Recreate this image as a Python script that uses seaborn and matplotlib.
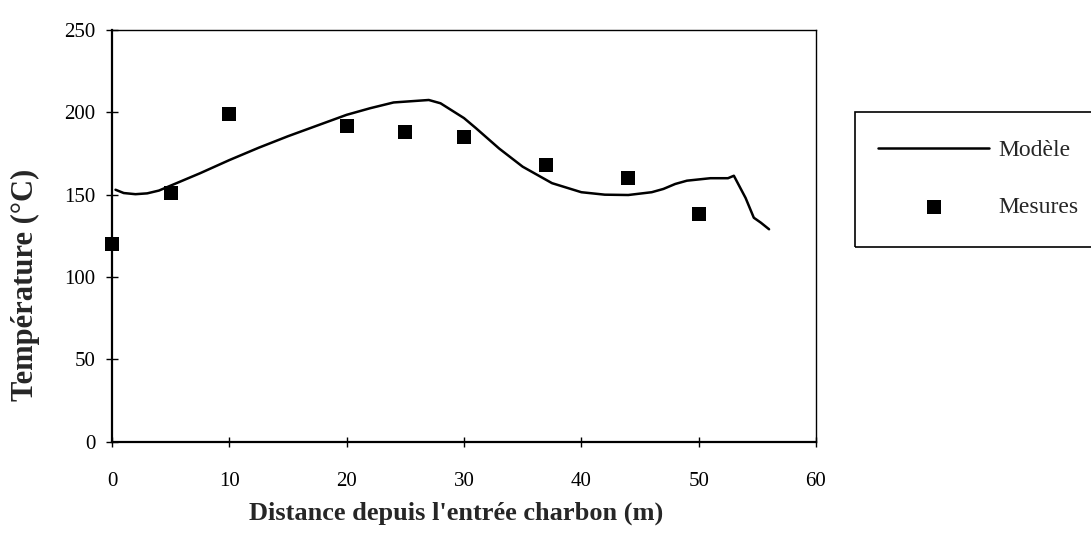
import numpy as np
import pandas as pd
import matplotlib
matplotlib.use("Agg")
import matplotlib.pyplot as plt
from matplotlib.patches import Rectangle
import seaborn as sns

# Model curve
model_x = [0.3, 1, 2, 3, 4, 5, 7.5, 10, 12.5, 15, 17.5, 20, 22, 24, 25, 26, 27, 28, 29, 30,
           31, 33, 35, 37.5, 40, 42, 44, 46, 47, 48, 49, 51, 52.5, 53, 54, 54.7, 55.3, 56]
model_y = [153, 151, 150.3, 150.8, 152.5, 155.5, 163, 171, 178.5, 185.5, 192, 198.5, 202.5, 206, 206.5, 207, 207.5, 205.5, 201, 196.5,
           190.5, 178, 167, 157, 151.5, 150, 149.8, 151.5, 153.5, 156.5, 158.5, 160, 160, 161.5, 148, 136, 133, 129]

# Measurements
mes_x = [0, 5, 10, 20, 25, 30, 37, 44, 50]
mes_y = [120, 151, 199, 192, 188, 185, 168, 160, 138]

x_ticks = [0, 10, 20, 30, 40, 50, 60]
y_ticks = [0, 50, 100, 150, 200, 250]

sns.set_style("ticks")
plt.rcParams['font.family'] = ['Liberation Serif', 'DejaVu Serif']

model = pd.DataFrame({"x": model_x, "y": model_y})
mes = pd.DataFrame({"x": mes_x, "y": mes_y})

fig = plt.figure(figsize=(10.91, 5.33), dpi=100)
ax = fig.add_axes([112 / 1091, 1 - 441.7 / 533, (816 - 112) / 1091, (441.7 - 30) / 533])

sns.lineplot(data=model, x="x", y="y", ax=ax, color="black", linewidth=1.8,
             sort=False, label="Modèle", legend=False)
sns.scatterplot(data=mes, x="x", y="y", ax=ax, color="black", marker="s", s=95,
                edgecolor="black", linewidth=0, label="Mesures", legend=False,
                zorder=3, clip_on=False)

ax.set_xlim(0, 60)
ax.set_ylim(0, 250)
ax.set_xticks(x_ticks)
ax.set_yticks(y_ticks)
ax.tick_params(axis="x", direction="inout", length=7, width=1, labelsize=15, pad=18,
               bottom=True, colors="black")
ax.tick_params(axis="y", direction="inout", length=8, width=1, labelsize=15, pad=8,
               left=True, colors="black")
for side in ["left", "bottom"]:
    ax.spines[side].set_linewidth(1.6)
for side in ["top", "right"]:
    ax.spines[side].set_linewidth(1.0)
for sp in ax.spines.values():
    sp.set_color("black")

ax.set_xlabel("Distance depuis l'entrée charbon (m)", fontsize=19, fontweight="bold")
ax.set_ylabel("Température (°C)", fontsize=22, fontweight="bold")
ax.xaxis.set_label_coords(0.489, -0.146)
ax.yaxis.set_label_coords(-0.102, 0.38)

# legend frame, running past the right edge
fig.patches.append(Rectangle((855 / 1091, 1 - 247 / 533), 0.3, (247 - 112) / 533,
                             transform=fig.transFigure, fill=False, edgecolor="black", linewidth=1.2))
handles, labels = ax.get_legend_handles_labels()
fig.legend(handles, labels, loc="upper left", bbox_to_anchor=(857 / 1091, 1 - 118 / 533),
           frameon=False, fontsize=17, handlelength=4.7, handletextpad=0.38, labelspacing=1.52,
           markerscale=1.1)

fig.savefig("out.png", dpi=100)
